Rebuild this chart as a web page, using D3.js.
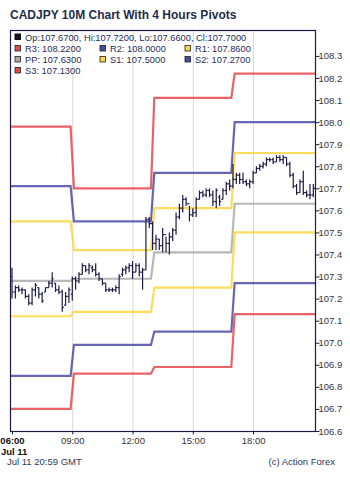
<!DOCTYPE html>
<html>
<head>
<meta charset="utf-8">
<script src="https://cdn.jsdelivr.net/npm/d3@7"></script>
<style>
  body { margin: 0; background: #fff; }
  svg { font-family: "Liberation Sans", Arial, sans-serif; }
</style>
</head>
<body>
<div id="chart"></div>
<script>
// chart size and plot box
const graphicWidth = 350;
const graphicHeight = 481;
const plot = {left: 11, right: 315, top: 31, bottom: 431};

// data: 10 minute bars of CADJPY from 06:00, Jul 11
const day = '2018-07-11';
const firstBar = '06:00';
const barMinutes = 10;
const opens  = [107.30,107.23,107.25,107.24,107.24,107.21,107.18,107.24,107.25,107.22,107.23,107.25,107.27,107.27,107.24,107.23,107.17,107.21,107.22,107.29,107.28,107.31,107.35,107.33,107.34,107.33,107.31,107.29,107.27,107.24,107.24,107.24,107.25,107.31,107.33,107.34,107.35,107.32,107.35,107.32,107.33,107.56,107.54,107.45,107.47,107.44,107.49,107.45,107.48,107.51,107.57,107.61,107.65,107.63,107.58,107.59,107.65,107.68,107.67,107.69,107.67,107.64,107.66,107.65,107.69,107.72,107.71,107.74,107.76,107.74,107.73,107.72,107.73,107.77,107.79,107.80,107.81,107.83,107.83,107.82,107.84,107.83,107.84,107.81,107.76,107.71,107.68,107.73,107.68,107.67,107.67];
const highs  = [107.34,107.26,107.26,107.25,107.24,107.22,107.25,107.27,107.25,107.23,107.25,107.28,107.32,107.27,107.26,107.24,107.23,107.25,107.30,107.30,107.32,107.36,107.35,107.36,107.35,107.36,107.32,107.29,107.27,107.25,107.25,107.26,107.31,107.34,107.35,107.36,107.37,107.36,107.36,107.34,107.57,107.57,107.55,107.49,107.47,107.52,107.48,107.50,107.52,107.59,107.63,107.67,107.66,107.62,107.61,107.66,107.69,107.69,107.70,107.70,107.69,107.70,107.67,107.70,107.73,107.74,107.81,107.77,107.77,107.77,107.74,107.74,107.78,107.80,107.81,107.82,107.84,107.84,107.84,107.85,107.85,107.85,107.84,107.82,107.77,107.72,107.74,107.78,107.69,107.72,107.72];
const lows   = [107.20,107.20,107.23,107.22,107.20,107.17,107.17,107.21,107.20,107.18,107.23,107.25,107.25,107.23,107.22,107.14,107.17,107.18,107.19,107.24,107.27,107.31,107.32,107.31,107.32,107.30,107.28,107.26,107.23,107.23,107.23,107.23,107.22,107.30,107.31,107.32,107.29,107.32,107.30,107.24,107.33,107.52,107.42,107.42,107.42,107.41,107.41,107.40,107.46,107.49,107.56,107.59,107.62,107.55,107.57,107.57,107.65,107.66,107.66,107.66,107.62,107.61,107.62,107.65,107.67,107.69,107.70,107.72,107.72,107.72,107.71,107.70,107.72,107.77,107.78,107.79,107.80,107.82,107.81,107.82,107.82,107.81,107.80,107.75,107.70,107.67,107.68,107.67,107.66,107.65,107.66];
const closes = [107.23,107.25,107.24,107.24,107.21,107.18,107.24,107.26,107.22,107.19,107.25,107.27,107.29,107.24,107.23,107.16,107.21,107.24,107.29,107.28,107.31,107.35,107.33,107.35,107.33,107.31,107.29,107.27,107.24,107.24,107.24,107.25,107.30,107.33,107.34,107.35,107.32,107.35,107.32,107.33,107.56,107.54,107.45,107.47,107.44,107.49,107.45,107.48,107.51,107.57,107.61,107.65,107.63,107.58,107.59,107.65,107.68,107.67,107.69,107.67,107.64,107.69,107.64,107.69,107.72,107.71,107.74,107.76,107.74,107.73,107.72,107.73,107.77,107.79,107.80,107.81,107.83,107.83,107.82,107.84,107.83,107.84,107.81,107.76,107.71,107.68,107.73,107.68,107.67,107.67,107.70];

// 4 hour pivot levels
const pivotStarts = ['05:00', '09:00', '13:00', '17:00'];
const pivotEnds   = ['09:00', '13:00', '17:00', '21:30'];
const pivotNames  = ['R3', 'R2', 'R1', 'PP', 'S1', 'S2', 'S3'];
const r3 = [107.98, 107.70, 108.11, 108.22];
const r2 = [107.71, 107.55, 107.77, 108.00];
const r1 = [107.55, 107.42, 107.61, 107.86];
const pp = [107.28, 107.29, 107.41, 107.63];
const s1 = [107.12, 107.14, 107.25, 107.50];
const s2 = [106.85, 106.99, 107.05, 107.27];
const s3 = [106.70, 106.86, 106.89, 107.13];
const pivotColors = ['#e8474a', '#4b4ba8', '#fdd640', '#aaaaaa', '#fdd640', '#4b4ba8', '#e8474a'];

// axis setup
const yDomain = [106.6, 108.413];
const yTicks = [106.6, 106.7, 106.8, 106.9, 107.0, 107.1, 107.2, 107.3, 107.4, 107.5, 107.6, 107.7, 107.8, 107.9, 108.0, 108.1, 108.2, 108.3];
const xTicks = ['06:00', '09:00', '12:00', '15:00', '18:00'];
const xDomain = ['05:57', '21:05'];

const parseTime = t => new Date(day + 'T' + t + ':00');
const navy = '#1b1b45';

const svg = d3.select('#chart')
    .append('svg')
    .attr('width', graphicWidth)
    .attr('height', graphicHeight);

const x = d3.scaleTime()
    .domain(xDomain.map(parseTime))
    .range([plot.left, plot.right]);
const y = d3.scaleLinear()
    .domain(yDomain)
    .range([plot.bottom, plot.top]);

// title
svg.append('text')
    .attr('x', 10)
    .attr('y', 18.5)
    .attr('fill', '#1f2d4d')
    .attr('font-size', 12)
    .attr('font-weight', 'bold')
    .text('CADJPY 10M Chart With 4 Hours Pivots');

svg.append('defs').append('clipPath').attr('id', 'clip')
    .append('rect')
    .attr('x', plot.left).attr('y', plot.top)
    .attr('width', plot.right - plot.left).attr('height', plot.bottom - plot.top);

// vertical grid
svg.append('g')
    .selectAll('line')
    .data(xTicks.slice(1))
    .join('line')
    .attr('x1', d => x(parseTime(d)) + 0.5)
    .attr('x2', d => x(parseTime(d)) + 0.5)
    .attr('y1', plot.top)
    .attr('y2', plot.bottom)
    .attr('stroke', '#d8d8d8')
    .attr('stroke-width', 1);

// pivot lines
const pivotLevels = [r3, r2, r1, pp, s1, s2, s3];
const pivotG = svg.append('g').attr('clip-path', 'url(#clip)');
const shift = 5 * 60000;
pivotLevels.forEach((levels, k) => {
    let pts = [];
    levels.forEach((v, i) => {
        pts.push([parseTime(pivotStarts[i]).getTime() + (i ? shift : 0), v]);
        pts.push([parseTime(pivotEnds[i]).getTime() - shift, v]);
    });
    pivotG.append('path')
        .datum(pts)
        .attr('fill', 'none')
        .attr('stroke', pivotColors[k])
        .attr('stroke-opacity', 0.85)
        .attr('stroke-width', 2.2)
        .attr('d', d3.line()
            .x(d => x(new Date(d[0])))
            .y(d => y(d[1]))
        );
});

// ohlc bars
const bars = opens.map((o, i) => ({
    t: new Date(parseTime(firstBar).getTime() + i * barMinutes * 60000),
    o: o, h: highs[i], l: lows[i], c: closes[i]
}));
const barG = svg.append('g').attr('clip-path', 'url(#clip)')
    .attr('stroke', navy)
    .attr('stroke-width', 1.2);
const barSel = barG.selectAll('g').data(bars).join('g');
barSel.append('line')
    .attr('x1', d => x(d.t)).attr('x2', d => x(d.t))
    .attr('y1', d => y(d.h)).attr('y2', d => y(d.l));
barSel.append('line')
    .attr('x1', d => x(d.t) - 1.6).attr('x2', d => x(d.t))
    .attr('y1', d => y(d.o)).attr('y2', d => y(d.o));
barSel.append('line')
    .attr('x1', d => x(d.t)).attr('x2', d => x(d.t) + 1.6)
    .attr('y1', d => y(d.c)).attr('y2', d => y(d.c));

// frame
svg.append('rect')
    .attr('x', plot.left - 0.5)
    .attr('y', plot.top - 0.5)
    .attr('width', plot.right - plot.left + 1)
    .attr('height', plot.bottom - plot.top + 1)
    .attr('fill', 'none')
    .attr('stroke', navy)
    .attr('stroke-width', 1.2);

// right axis
const yAxis = svg.append('g')
    .attr('transform', 'translate(' + (plot.right + 0.5) + ',0)')
    .call(d3.axisRight(y).tickValues(yTicks).tickSize(4).tickSizeOuter(0).tickFormat(d3.format('.1f')));
yAxis.select('.domain').remove();
yAxis.selectAll('line').attr('stroke', navy);
yAxis.selectAll('text')
    .attr('x', 3)
    .attr('fill', '#333344')
    .attr('font-size', 9.5)
    .attr('font-family', '"Liberation Sans", Arial, sans-serif');

// bottom axis
const xAxis = svg.append('g')
    .attr('transform', 'translate(0,' + (plot.bottom + 0.5) + ')')
    .call(d3.axisBottom(x).tickValues(xTicks.map(parseTime)).tickSize(3).tickFormat(d3.timeFormat('%H:%M')));
xAxis.select('.domain').remove();
xAxis.selectAll('line').attr('stroke', navy);
xAxis.selectAll('text')
    .attr('y', 6)
    .attr('font-size', 9.5)
    .attr('font-family', '"Liberation Sans", Arial, sans-serif')
    .attr('font-weight', (d, i) => i === 0 ? 'bold' : 'normal')
    .attr('fill', (d, i) => i === 0 ? '#111' : '#333344');
svg.append('text')
    .attr('x', 1)
    .attr('y', 455)
    .attr('font-size', 9.5)
    .attr('font-weight', 'bold')
    .attr('fill', '#111')
    .text('Jul 11');

// legend
const lastBar = bars[bars.length - 1];
const fmt4 = d3.format('.4f');
const legendG = svg.append('g').attr('font-size', 9.3).attr('fill', '#1f2d5a');
legendG.append('rect')
    .attr('x', 15).attr('y', 34).attr('width', 5.5).attr('height', 5.5)
    .attr('fill', '#111122').attr('stroke', '#111');
legendG.append('text')
    .attr('x', 25).attr('y', 40.5)
    .text('Op:' + fmt4(lastBar.o) + ', Hi:' + fmt4(lastBar.h) + ', Lo:' + fmt4(lastBar.l) + ', Cl:' + fmt4(lastBar.c));
const legendCols = [15, 100, 185];
pivotNames.forEach((name, k) => {
    const col = legendCols[k % 3];
    const row = Math.floor(k / 3);
    const yy = 45.5 + row * 11;
    const lastVal = pivotLevels[k][pivotLevels[k].length - 1];
    legendG.append('rect')
        .attr('x', col).attr('y', yy).attr('width', 5.5).attr('height', 5.5)
        .attr('fill', pivotColors[k]).attr('stroke', '#222').attr('stroke-width', 0.8);
    legendG.append('text')
        .attr('x', col + 10).attr('y', yy + 6.5)
        .text(name + ': ' + fmt4(lastVal));
});

// footer
svg.append('text')
    .attr('x', 7).attr('y', 465)
    .attr('font-size', 9.5).attr('fill', '#2a3a60')
    .text('Jul 11 20:59 GMT');
svg.append('text')
    .attr('x', 335).attr('y', 465)
    .attr('text-anchor', 'end')
    .attr('font-size', 9.5).attr('fill', '#2a3a60')
    .text('(c) Action Forex');
</script>
</body>
</html>
